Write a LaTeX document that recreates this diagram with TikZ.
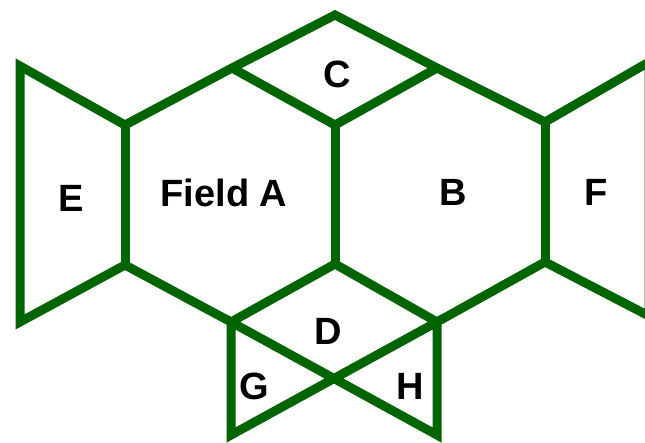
\documentclass[tikz,border=0pt]{standalone}
\usepackage{fontspec}
\setmainfont{Liberation Sans}
\definecolor{fieldgreen}{RGB}{0,100,0}
\begin{document}
\begin{tikzpicture}[x=1pt,y=-1pt,
  edge/.style={draw=fieldgreen,line width=9pt,line join=miter},
  lab/.style={font=\fontsize{38}{42}\selectfont\bfseries,inner sep=0pt,anchor=center}]
\useasboundingbox (0,0) rectangle (645,443);
% vertices
\coordinate (T) at (335,15);
\coordinate (CL) at (232,68);
\coordinate (CR) at (437,68);
\coordinate (CB) at (335,125);
\coordinate (AL1) at (125,125);
\coordinate (AL2) at (125,265);
\coordinate (AB) at (335,264);
\coordinate (DL) at (231,322);
\coordinate (DR) at (437,322);
\coordinate (GB) at (231,435);
\coordinate (HB) at (437,435);
\coordinate (BR1) at (545,122);
\coordinate (BR2) at (545,262);
\coordinate (EL1) at (20,66);
\coordinate (EL2) at (20,322);
\coordinate (FR1) at (649,62);
\coordinate (FR2) at (649,316);
% outlines
\draw[edge] (EL2) -- (EL1) -- (AL1) -- (CL) -- (T) -- (CR) -- (BR1) -- (FR1) -- (FR2) -- (BR2) -- (DR) -- (AB) -- (DL) -- (AL2) -- cycle;
\draw[edge] (AL1) -- (AL2);
\draw[edge] (CL) -- (CB) -- (CR);
\draw[edge] (CB) -- (AB);
\draw[edge] (BR1) -- (BR2);
\draw[edge] (DL) -- (GB) -- (DR) -- (HB) -- (DL) -- cycle;
% labels
\node[lab] (E) at (71,198) {E};
\node[lab] (A) at (224,193) {Field A};
\node[lab] (B) at (453,192) {B};
\node[lab] (C) at (337,74) {C};
\node[lab] (F) at (596,192) {F};
\node[lab] (D) at (328,331) {D};
\node[lab] (G) at (254,386) {G};
\node[lab] (H) at (410,386) {H};
\end{tikzpicture}
\end{document}
